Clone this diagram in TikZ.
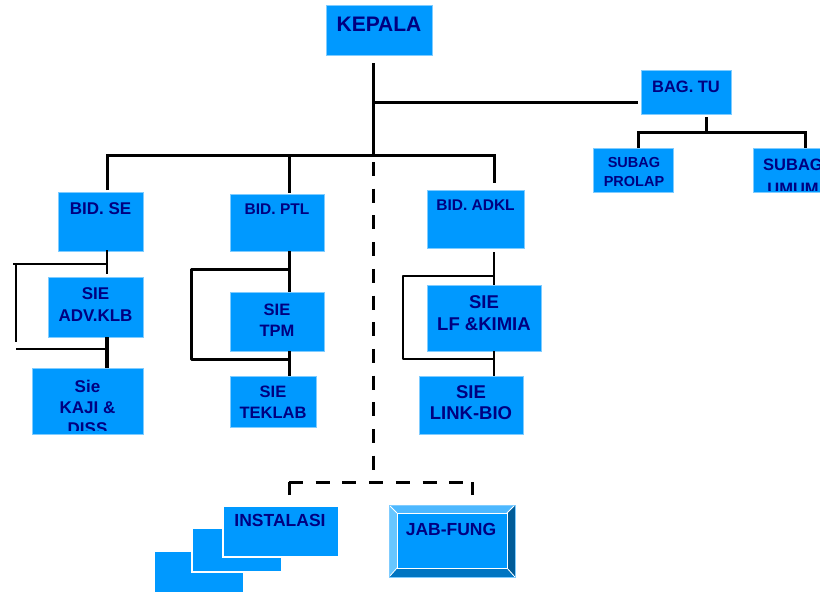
\documentclass[tikz,border=0pt]{standalone}
\usepackage{fontspec}
\setmainfont{Liberation Sans}
\definecolor{boxblue}{HTML}{0099FF}
\definecolor{boxedge}{HTML}{7FCCFF}
\definecolor{navy}{HTML}{000080}
\definecolor{bevtop}{HTML}{4DB8FF}
\definecolor{bevleft}{HTML}{66C6FF}
\definecolor{bevright}{HTML}{005C99}
\definecolor{bevbot}{HTML}{0075C2}
\begin{document}
\begin{tikzpicture}[x=1pt,y=-1pt,
  box/.style={fill=boxblue,draw=boxedge,line width=0.7pt,inner sep=0pt,anchor=north west},
  stackbox/.style={fill=boxblue,draw=white,line width=1.5pt,inner sep=0pt,anchor=north west},
  txt/.style={text=navy,align=center,inner sep=0pt},
  fs/.style n args={2}{font=\fontsize{#1}{#2}\selectfont\bfseries},
  conn/.style={line width=3pt,line cap=rect},
  thinconn/.style={line width=1.8pt},
  midconn/.style={line width=2.5pt},
  dashconn/.style={line width=3pt,dash pattern=on 14pt off 12.7pt}]
\useasboundingbox (0,0) rectangle (820,592);

% ---------- boxes ----------
\node[box,minimum width=106pt,minimum height=50pt] (kepala) at (326,5) {};
\node[txt,fs={21}{25}] (kepalaT) at (379,24) {KEPALA};

\node[box,minimum width=90pt,minimum height=44pt] (bagtu) at (641,70) {};
\node[txt,fs={16.5}{20}] (bagtuT) at (686,87) {BAG. TU};

\node[box,minimum width=80pt,minimum height=44pt] (prolap) at (593,148) {};
\node[txt,fs={14.5}{19}] (prolapT) at (634,172) {SUBAG\\PROLAP};

\node[box,minimum width=80pt,minimum height=44pt] (umum) at (753,148) {};
\begin{scope}
\clip (753,148) rectangle (833,190);
\node[txt,fs={16.5}{24}] (umumT) at (793,177) {SUBAG\\UMUM};
\end{scope}

\node[box,minimum width=85pt,minimum height=59pt] (bidse) at (58,192) {};
\node[txt,fs={17}{21}] (bidseT) at (100.5,209) {BID. SE};

\node[box,minimum width=94pt,minimum height=57pt] (bidptl) at (230,194) {};
\node[txt,fs={15.5}{19}] (bidptlT) at (277,209) {BID. PTL};

\node[box,minimum width=97pt,minimum height=58pt] (bidadkl) at (427,190) {};
\node[txt,fs={15.5}{19}] (bidadklT) at (475.5,205) {BID. ADKL};

\node[box,minimum width=95pt,minimum height=60pt] (advklb) at (48,277) {};
\node[txt,fs={17}{22}] (advklbT) at (95.5,305) {SIE\\ADV.KLB};

\node[box,minimum width=111pt,minimum height=66pt] (kaji) at (32,368) {};
\begin{scope}
\clip (32,368) rectangle (143,430);
\node[txt,fs={17}{21}] (kajiT) at (87.5,407) {Sie\\KAJI \&\\DISS};
\end{scope}

\node[box,minimum width=94pt,minimum height=59pt] (tpm) at (230,292) {};
\node[txt,fs={16.5}{21}] (tpmT) at (277,320) {SIE\\TPM};

\node[box,minimum width=86pt,minimum height=51pt] (teklab) at (230,376) {};
\node[txt,fs={16.5}{21}] (teklabT) at (273,402.5) {SIE\\TEKLAB};

\node[box,minimum width=114pt,minimum height=66pt] (lfkimia) at (427,285) {};
\node[txt,fs={18.5}{22}] (lfkimiaT) at (484,313) {SIE\\LF \&KIMIA};

\node[box,minimum width=104pt,minimum height=58pt] (linkbio) at (419,376) {};
\node[txt,fs={18.5}{21}] (linkbioT) at (471,402.5) {SIE\\LINK-BIO};

% INSTALASI stack
\node[stackbox,minimum width=90pt,minimum height=50pt] (inst3) at (153,550) {};
\node[stackbox,minimum width=90pt,minimum height=44pt] (inst2) at (191,527) {};
\node[stackbox,minimum width=116pt,minimum height=51pt] (inst1) at (222,505) {};
\node[txt,fs={17.5}{21}] (inst1T) at (280,520) {INSTALASI};

% JAB-FUNG bevelled box
\fill[bevtop] (389,505) -- (515,505) -- (507,513) -- (397,513) -- cycle;
\fill[bevleft] (389,505) -- (397,513) -- (397,568) -- (389,577) -- cycle;
\fill[bevright] (515,505) -- (507,513) -- (507,568) -- (515,577) -- cycle;
\fill[bevbot] (389,577) -- (397,568) -- (507,568) -- (515,577) -- cycle;
\draw[white,line width=0.8pt] (389,505) -- (397,513) (515,505) -- (507,513)
  (389,577) -- (397,568) (515,577) -- (507,568);
\node[fill=boxblue,draw=white,line width=1pt,inner sep=0pt,anchor=north west,
  minimum width=110pt,minimum height=55pt] (jabfung) at (397,513) {};
\draw[boxedge,line width=0.6pt] (389,505) rectangle (515,577);
\node[txt,fs={17.5}{21}] (jabfungT) at (451,529) {JAB-FUNG};

% ---------- connector points ----------
\coordinate (kTop) at (373,64);
\coordinate (kMid) at (373,102);
\coordinate (kBus) at (373,155);
\coordinate (bagIn) at (638,102);
\coordinate (bagOut) at (706,117);
\coordinate (subBus) at (706,132);
\coordinate (subL) at (638,132);
\coordinate (subLe) at (638,148);
\coordinate (subR) at (805,132);
\coordinate (subRe) at (805,148);
\coordinate (busL) at (107,155);
\coordinate (busLe) at (107,190);
\coordinate (busM) at (289,155);
\coordinate (busMe) at (289,193);
\coordinate (busR) at (494,155);
\coordinate (busRe) at (494,183);
\coordinate (dTop) at (373,162);
\coordinate (dBot) at (373,470);
\coordinate (dL) at (289,482);
\coordinate (dLe) at (289,495);
\coordinate (dR) at (472,482);
\coordinate (dRe) at (472,495);

% ---------- connectors ----------
\draw[conn] (kTop) -- (kBus);
\draw[conn,line cap=butt] (kMid) -- (bagIn);
\draw[conn,line cap=butt] (bagOut) -- (subBus);
\draw[conn,line cap=butt] (subLe) -- (subL) -- (subR) -- (subRe);
\draw[conn,line cap=butt] (busLe) -- (busL) -- (busR) -- (busRe);
\draw[conn,line cap=butt] (busM) -- (busMe);
\draw[dashconn] (dTop) -- (dBot);
\draw[conn,line cap=butt] (dLe) -- (dL);
\draw[conn,line cap=butt] (dRe) -- (dR);
\draw[dashconn] (dL) -- (dR);

% BID. SE column
\coordinate (se1) at (107,250);
\coordinate (se2) at (107,274);
\coordinate (seA) at (13,264);
\coordinate (seB) at (107,264);
\coordinate (seC) at (16,265);
\coordinate (seD) at (16,342);
\coordinate (seE) at (16,349);
\coordinate (seF) at (107,349);
\coordinate (se3) at (107,337);
\coordinate (se4) at (107,368);
\draw[thinconn] (se1) -- (se2);
\draw[thinconn] (seA) -- (seB);
\draw[thinconn] (seC) -- (seD);
\draw[thinconn] (seE) -- (seF);
\draw[line width=3.3pt] (se3) -- (se4);

% BID. PTL column
\coordinate (pt1) at (289,251);
\coordinate (pt2) at (289,292);
\coordinate (ptA) at (289,269);
\coordinate (ptB) at (191,269);
\coordinate (ptC) at (191,359);
\coordinate (ptD) at (289,359);
\coordinate (pt3) at (289,351);
\coordinate (pt4) at (289,376);
\draw[conn,line cap=butt] (pt1) -- (pt2);
\draw[conn,line cap=butt,line join=round] (ptA) -- (ptB) -- (ptC) -- (ptD);
\draw[conn,line cap=butt] (pt3) -- (pt4);

% BID. ADKL column
\coordinate (ad1) at (494,252);
\coordinate (ad2) at (494,285);
\coordinate (adA) at (494,276);
\coordinate (adB) at (403,276);
\coordinate (adC) at (403,359);
\coordinate (adD) at (494,359);
\coordinate (ad3) at (494,351);
\coordinate (ad4) at (494,376);
\draw[midconn] (ad1) -- (ad2);
\draw[midconn,line join=round] (adA) -- (adB) -- (adC) -- (adD);
\draw[midconn] (ad3) -- (ad4);
\end{tikzpicture}
\end{document}
